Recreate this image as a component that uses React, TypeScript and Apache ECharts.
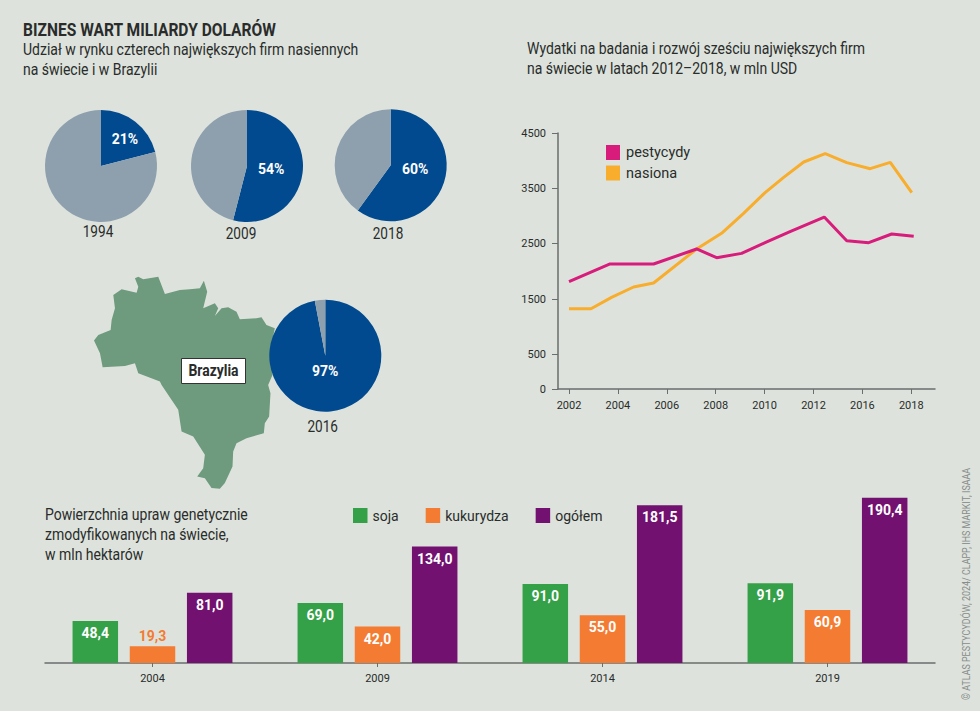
import React, { useEffect, useRef } from "react";
import * as echarts from "echarts";

const FONT = "Roboto, sans-serif";
const INK = "#2a2c2b";
const BG = "#dde3dc";
const BLUE = "#024a8f";
const GREY = "#8e9fae";

// Market-share pies
const pieYears = ["1994", "2009", "2018", "2016"];
const pieShares = [21, 54, 60, 97];

// R&D line chart. X positions are read in tick steps of the printed axis.
const rdTickLabels = ["2002", "2004", "2006", "2008", "2010", "2012", "2016", "2018"];
const rdTickSteps = [0, 1, 2, 3, 4, 5, 6, 7];
const rdValueTicks = [-126, 500, 1500, 2500, 3500, 4500];
const pesticideSteps = [0, 0.84, 1.73, 2.61, 3.02, 3.53, 4.01, 4.52, 5.22, 5.68, 6.13, 6.6, 7.05];
const pesticideValues = [1813, 2133, 2133, 2404, 2247, 2325, 2518, 2717, 2982, 2554, 2518, 2675, 2633];
const seedSteps = [0, 0.45, 0.87, 1.32, 1.73, 2.61, 3.12, 3.57, 4.01, 4.39, 4.8, 5.24, 5.68, 6.16, 6.57, 7.01];
const seedValues = [1325, 1325, 1530, 1717, 1789, 2404, 2687, 3048, 3422, 3699, 3976, 4127, 3964, 3855, 3970, 3422];

// GM crops bar chart
const cropYears = [2004, 2009, 2014, 2019];
const soja = [48.4, 69.0, 91.0, 91.9];
const kukurydza = [19.3, 42.0, 55.0, 60.9];
const ogolem = [81.0, 134.0, 181.5, 190.4];

// Brazil outline, traced in a local 960x675 frame
const brazilOutline = [
  [165, 25], [175, 20], [190, 28], [235, 20], [255, 72], [300, 60], [330, 58], [360, 55], [372, 32], [382, 65],
  [370, 115], [405, 100], [415, 115], [405, 138], [425, 115], [445, 112], [470, 125], [480, 148], [530, 145],
  [545, 142], [560, 165], [585, 175], [572, 240], [578, 315], [565, 345], [572, 370], [568, 440], [555, 460],
  [552, 490], [500, 505], [470, 520], [460, 545], [458, 590], [435, 640], [420, 657], [395, 655], [375, 625],
  [352, 620], [370, 595], [375, 555], [340, 500], [305, 485], [295, 420], [245, 345], [240, 335], [175, 310],
  [165, 280], [135, 288], [68, 292], [60, 250], [42, 212], [55, 195], [92, 180], [95, 150], [105, 115],
  [100, 75], [125, 58], [170, 68], [175, 50],
];

const comma = (v: number) => v.toFixed(1).replace(".", ",");

function txt(text: string, x: number, y: number, size: number, squeeze: number, extra: any = {}) {
  return {
    type: "text",
    x,
    y,
    z: 5,
    scaleX: squeeze,
    style: {
      text,
      fontFamily: FONT,
      fontSize: size,
      fill: INK,
      textVerticalAlign: "middle",
      ...extra,
    },
  };
}

function pie(i: number, cx: number, cy: number, offset: number[]) {
  return {
    type: "pie",
    silent: true,
    z: 3,
    center: [cx, cy],
    radius: [0, 56],
    startAngle: 90,
    clockwise: true,
    data: [
      {
        name: pieYears[i],
        value: pieShares[i],
        itemStyle: { color: BLUE },
        label: {
          show: true,
          position: "inside",
          formatter: "{c}%",
          color: "#fff",
          fontFamily: FONT,
          fontWeight: "bold",
          fontSize: 14,
          offset,
        },
      },
      { name: "reszta", value: 100 - pieShares[i], itemStyle: { color: GREY }, label: { show: false } },
    ],
    labelLine: { show: false },
  };
}

function barSeries(name: string, values: number[], color: string) {
  return {
    type: "bar",
    name,
    xAxisIndex: 1,
    yAxisIndex: 1,
    barWidth: 45.5,
    barGap: "25.7%",
    itemStyle: { color },
    data: values.map((v, i) => {
      const small = v < 25;
      return {
        value: [cropYears[i], v],
        label: {
          position: small ? "top" : "insideTop",
          distance: small ? 3 : 5,
          color: small ? color : "#fff",
        },
      };
    }),
    label: {
      show: true,
      fontFamily: FONT,
      fontWeight: "bold",
      fontSize: 14,
      formatter: (p: any) => comma(p.value[1]),
    },
  };
}

export default function App() {
  const ref = useRef<HTMLDivElement>(null);
  useEffect(() => {
    document.body.style.margin = "0";
    const chart = echarts.init(ref.current!, null, { renderer: "svg" });
    const axisGrey = "#6a6e6c";
    chart.setOption({
      animation: false,
      backgroundColor: BG,
      legend: [
        {
          left: 606,
          top: 145,
          orient: "vertical",
          icon: "rect",
          itemWidth: 14,
          itemHeight: 15,
          itemGap: 5.5,
          selectedMode: false,
          data: ["pestycydy", "nasiona"],
          textStyle: { fontFamily: FONT, fontSize: 14.5, color: INK, padding: [0, 0, 0, 1] },
          padding: 0,
        },
        {
          left: 353,
          top: 508,
          orient: "horizontal",
          icon: "rect",
          itemWidth: 14.5,
          itemHeight: 15,
          itemGap: 27,
          selectedMode: false,
          data: ["soja", "kukurydza", "ogółem"],
          textStyle: { fontFamily: FONT, fontSize: 14, color: INK },
          padding: 0,
        },
      ],
      grid: [
        { left: 558, width: 377, top: 133, height: 256 },
        { left: 45, width: 890, top: 489.3, height: 173.7 },
      ],
      xAxis: [
        {
          type: "value",
          gridIndex: 0,
          min: -0.225,
          max: 7.485,
          splitLine: { show: false },
          axisLine: { show: true, onZero: false, lineStyle: { color: axisGrey, width: 1.5 } },
          axisTick: { show: true, length: 5, customValues: rdTickSteps, lineStyle: { color: axisGrey } },
          axisLabel: {
            customValues: rdTickSteps,
            formatter: (v: number) => rdTickLabels[Math.round(v)],
            fontFamily: FONT,
            fontSize: 11,
            color: INK,
            margin: 11,
          },
        },
        {
          type: "value",
          gridIndex: 1,
          min: 2001.611,
          max: 2021.389,
          splitLine: { show: false },
          axisLine: { show: true, onZero: false, lineStyle: { color: axisGrey, width: 1.5 } },
          axisTick: { show: true, length: 4, customValues: cropYears, lineStyle: { color: axisGrey } },
          axisLabel: {
            customValues: cropYears,
            formatter: (v: number) => String(v),
            fontFamily: FONT,
            fontSize: 11,
            color: INK,
            margin: 10,
          },
        },
      ],
      yAxis: [
        {
          type: "value",
          gridIndex: 0,
          min: -126,
          max: 4500,
          splitLine: { show: false },
          axisLine: { show: true, onZero: false, lineStyle: { color: axisGrey, width: 1.5 } },
          axisTick: { show: true, length: 6, customValues: rdValueTicks, lineStyle: { color: axisGrey } },
          axisLabel: {
            customValues: rdValueTicks,
            formatter: (v: number) => (v < 0 ? "0" : String(v)),
            fontFamily: FONT,
            fontSize: 11,
            color: INK,
            margin: 12,
          },
        },
        {
          type: "value",
          gridIndex: 1,
          min: 0,
          max: 200,
          show: false,
          splitLine: { show: false },
        },
      ],
      series: [
        pie(0, 101, 166, [5, -3]),
        pie(1, 247, 166, [-6.5, -1]),
        pie(2, 390.7, 165.3, [-5, -6.3]),
        pie(3, 325.3, 355.7, [-3, -16]),
        {
          type: "line",
          name: "pestycydy",
          xAxisIndex: 0,
          yAxisIndex: 0,
          z: 4,
          symbol: "none",
          lineStyle: { color: "#d81c7b", width: 3 },
          itemStyle: { color: "#d81c7b" },
          data: pesticideSteps.map((s, i) => [s, pesticideValues[i]]),
        },
        {
          type: "line",
          name: "nasiona",
          xAxisIndex: 0,
          yAxisIndex: 0,
          z: 3,
          symbol: "none",
          lineStyle: { color: "#f8ad2d", width: 3 },
          itemStyle: { color: "#f8ad2d" },
          data: seedSteps.map((s, i) => [s, seedValues[i]]),
        },
        barSeries("soja", soja, "#34a047"),
        barSeries("kukurydza", kukurydza, "#f47b32"),
        barSeries("ogółem", ogolem, "#72116f"),
      ],
      graphic: [
        {
          type: "polygon",
          x: 80,
          y: 270,
          scaleX: 1 / 3,
          scaleY: 1 / 3,
          z: 1,
          silent: true,
          shape: { points: brazilOutline },
          style: { fill: "#6e9a7d" },
        },
        {
          type: "rect",
          z: 4,
          shape: { x: 181.5, y: 358.5, width: 64, height: 25 },
          style: { fill: "#fff", stroke: "#333", lineWidth: 1 },
        },
        txt("Brazylia", 213.5, 371, 16, 0.87, { fontWeight: "bold", textAlign: "center" }),
        txt("BIZNES WART MILIARDY DOLARÓW", 23, 30, 18, 0.866, { fontWeight: "bold" }),
        txt("Udział w rynku czterech największych firm nasiennych", 23, 50, 16, 0.875),
        txt("na świecie i w Brazylii", 23, 70, 16, 0.875),
        txt("Wydatki na badania i rozwój sześciu największych firm", 527, 49, 16, 0.875),
        txt("na świecie w latach 2012–2018, w mln USD", 527, 69, 16, 0.875),
        txt("Powierzchnia upraw genetycznie", 45, 515, 16, 0.875),
        txt("zmodyfikowanych na świecie,", 45, 535, 16, 0.875),
        txt("w mln hektarów", 45, 555, 16, 0.875),
        txt("1994", 98, 232, 16, 0.85, { textAlign: "center" }),
        txt("2009", 241, 234, 16, 0.85, { textAlign: "center" }),
        txt("2018", 388, 234, 16, 0.85, { textAlign: "center" }),
        txt("2016", 322.7, 427, 16, 0.85, { textAlign: "center" }),
        {
          ...txt("© ATLAS PESTYCYDÓW, 2024/ CLAPP, IHS MARKIT, ISAAA", 966, 700, 11.5, 0.776, { fill: "#888d8b" }),
          rotation: Math.PI / 2,
        },
      ],
    });
    return () => chart.dispose();
  }, []);
  return <div ref={ref} style={{ position: "absolute", left: 0, top: 0, width: 980, height: 711 }} />;
}
